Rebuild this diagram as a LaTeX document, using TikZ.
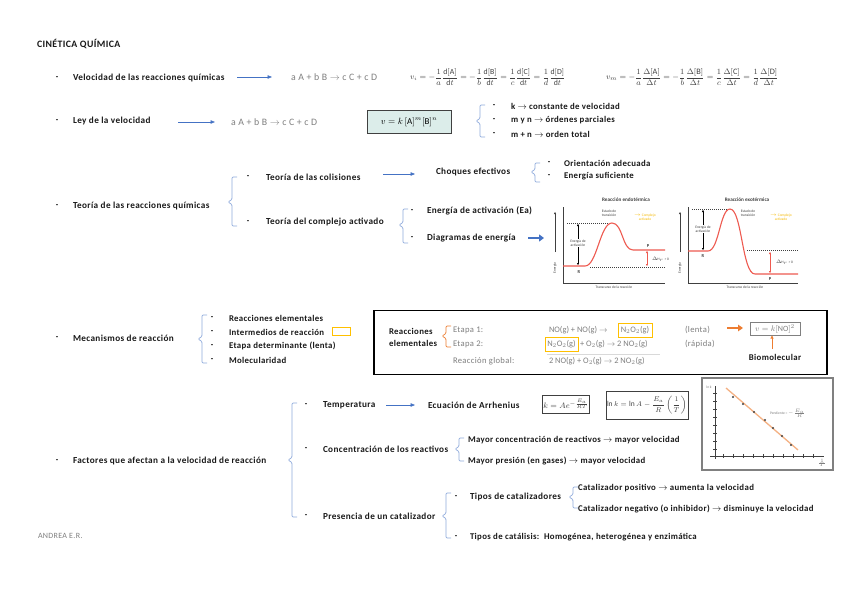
\documentclass[tikz,border=0pt]{standalone}
\usepackage{amsmath}
\usepackage{fontspec}
\setmainfont{Carlito}
\newfontfamily\lsf[LetterSpace=4]{Carlito}
\usetikzlibrary{arrows.meta}
\definecolor{blu}{HTML}{4472C4}
\definecolor{brk}{HTML}{8FAADC}
\definecolor{gtx}{HTML}{7F7F7F}
\definecolor{org}{HTML}{ED7D31}
\definecolor{yel}{HTML}{FFC000}
\definecolor{boxfill}{HTML}{DCEDEA}
\definecolor{crv}{HTML}{EE5A50}
\definecolor{ylab}{HTML}{F5B800}
\definecolor{dgray}{HTML}{404040}
\definecolor{lorg}{HTML}{F4B183}
\newcommand{\brc}[5][brk]{\draw[#1,line width=0.7pt,rounded corners=1.2pt] (#2+5,#3) -- (#2,#3) -- (#2,#5-2.5) -- (#2-4,#5) -- (#2,#5+2.5) -- (#2,#4) -- (#2+5,#4);}
\begin{document}
\begin{tikzpicture}[x=1pt,y=-1pt,
  every node/.style={inner sep=0pt,outer sep=0pt},
  lbl/.style={anchor=west,font=\lsf\fontsize{9.2}{11}\selectfont\bfseries,text=black!90},
  itm/.style={anchor=west,font=\lsf\fontsize{8.8}{10.5}\selectfont\bfseries,text=black!90},
  bul/.style={anchor=center,font=\fontsize{8}{9.6}\selectfont\bfseries},
  eqs/.style={anchor=west,font=\lsf\fontsize{9.8}{11}\selectfont,text=gtx},
  beq/.style={anchor=west,font=\lsf\fontsize{8.6}{10}\selectfont,text=gtx},
  barr/.style={draw=blu,line width=0.6pt,-{Triangle[length=4.5pt,width=3.5pt]}},
  tiny/.style={font=\fontsize{3.6}{4.2}\selectfont,align=center,text=dgray},
  tarr/.style={line width=0.4pt,{Triangle[length=2pt,width=2pt]}-{Triangle[length=2pt,width=2pt]}},
  dsh/.style={dgray,line width=0.4pt,dash pattern=on 1pt off 1pt},
]
\useasboundingbox (0,0) rectangle (848,599);
\fill[white] (0,0) rectangle (848,599);

% title
\node[lbl,font=\lsf\fontsize{9.8}{11}\selectfont\bfseries] (title) at (37,44) {CINÉTICA QUÍMICA};

% row 1
\node[bul] (d1) at (57,78) {-};
\node[lbl] (vel) at (73,78) {Velocidad de las reacciones químicas};
\coordinate (a1s) at (237,77); \coordinate (a1e) at (272,77);
\draw[barr] (a1s) -- (a1e);
\node[eqs] (eq1) at (291,77) {a A + b B $\rightarrow$ c C + c D};
\node[anchor=west,text=dgray,font=\fontsize{7.8}{8}\selectfont] (vi) at (410,77)
 {$v_i=-\dfrac{1}{a}\dfrac{\mathrm{d[A]}}{\mathrm{d}t}=-\dfrac{1}{b}\dfrac{\mathrm{d[B]}}{\mathrm{d}t}=\dfrac{1}{c}\dfrac{\mathrm{d[C]}}{\mathrm{d}t}=\dfrac{1}{d}\dfrac{\mathrm{d[D]}}{\mathrm{d}t}$};
\node[anchor=west,text=dgray,font=\fontsize{8.3}{9}\selectfont] (vm) at (606,77)
 {$v_m=-\dfrac{1}{a}\dfrac{\Delta\mathrm{[A]}}{\Delta t}=-\dfrac{1}{b}\dfrac{\Delta\mathrm{[B]}}{\Delta t}=\dfrac{1}{c}\dfrac{\Delta\mathrm{[C]}}{\Delta t}=\dfrac{1}{d}\dfrac{\Delta\mathrm{[D]}}{\Delta t}$};

% row 2
\node[bul] (d2) at (57,121) {-};
\node[lbl] (ley) at (73,121) {Ley de la velocidad};
\coordinate (a2s) at (178,122); \coordinate (a2e) at (215,122);
\draw[barr] (a2s) -- (a2e);
\node[eqs] (eq2) at (231,122) {a A + b B $\rightarrow$ c C + c D};
\node[draw=dgray,line width=0.9pt,fill=boxfill,minimum width=84pt,minimum height=23pt,font=\fontsize{9}{10}\selectfont] (law) at (409,122) {$v=k\,[\mathrm{A}]^m[\mathrm{B}]^n$};
\brc{480}{105}{137}{121}
\node[bul] (d21) at (494,106) {-}; \node[itm] (k1) at (511,106) {k $\rightarrow$ constante de velocidad};
\node[bul] (d22) at (494,120) {-}; \node[itm] (k2) at (511,120) {m y n $\rightarrow$ órdenes parciales};
\node[bul] (d23) at (494,134) {-}; \node[itm] (k3) at (511,134) {m + n $\rightarrow$ orden total};

% row 3
\node[bul] (d3) at (57,206) {-};
\node[lbl] (teo) at (73,206) {Teoría de las reacciones químicas};
\brc{232}{177}{226}{202}
\node[bul] (d31) at (248,177) {-}; \node[lbl] (col) at (266,177) {Teoría de las colisiones};
\coordinate (a3s) at (383,174); \coordinate (a3e) at (415,174);
\draw[barr] (a3s) -- (a3e);
\node[lbl] (choq) at (436,172) {Choques efectivos};
\brc{535}{163}{182}{172}
\node[bul] (d311) at (549,163) {-}; \node[itm] (ori) at (564,163) {Orientación adecuada};
\node[bul] (d312) at (549,176) {-}; \node[itm] (ens) at (564,176) {Energía suficiente};
\node[bul] (d32) at (248,222) {-}; \node[lbl] (comp) at (266,222) {Teoría del complejo activado};
\brc{403}{209}{243}{225}
\node[bul] (d321) at (412,211) {-}; \node[lbl] (ea) at (427,211) {Energía de activación (Ea)};
\node[bul] (d322) at (412,238) {-}; \node[lbl] (diag) at (427,238) {Diagramas de energía};
\coordinate (a4s) at (528,238); \coordinate (a4e) at (544,238);
\draw[blu,line width=2.6pt,-{Triangle[length=5pt,width=7pt]}] (a4s) -- (a4e);

% energy diagram: endothermic
\node[font=\fontsize{5.2}{6}\selectfont\bfseries,text=dgray] (endo) at (626,200) {Reacción endotérmica};
\draw[dgray,line width=0.5pt] (563,207) -- (563,283) -- (665,283);
\draw[dgray,line width=0.5pt,-{Triangle[length=2pt,width=2pt]}] (555,252) -- (555,212);
\node[tiny,rotate=90] (en1) at (555,268) {Energía};
\node[tiny] (tr1) at (614,287.5) {Transcurso de la reacción};
\draw[dsh] (567,223) -- (610,223);
\draw[dsh] (590,267) -- (665,267);
\draw[crv,line width=1.1pt] (563,266) -- (585,266) .. controls (597,266) and (600,223) .. (612,223) .. controls (623,223) and (622,250) .. (633,250) -- (665,250);
\draw[tarr] (578,224) -- (578,265);
\node[tiny,fill=white,inner sep=0.6pt] (eal1) at (578,243) {Energía de\\activación};
\node[tiny] (et1) at (609,213.5) {Estado de\\transición};
\node[tiny,text=ylab] (ca1) at (645,217) {$\rightarrow$ Complejo\\activado};
\node[tiny,font=\fontsize{4.5}{5}\selectfont\bfseries] (p1) at (648,246) {P};
\node[tiny,font=\fontsize{4.5}{5}\selectfont\bfseries] (r1) at (579,272) {R};
\draw[tarr,crv] (647,251) -- (647,266);
\node[tiny,anchor=west] (dh1) at (652,259) {$\Delta$H$_r$ > 0};

% energy diagram: exothermic
\node[font=\fontsize{5.2}{6}\selectfont\bfseries,text=dgray] (exo) at (747,200) {Reacción exotérmica};
\draw[dgray,line width=0.5pt] (688,207) -- (688,283) -- (798,283);
\draw[dgray,line width=0.5pt,-{Triangle[length=2pt,width=2pt]}] (680,252) -- (680,212);
\node[tiny,rotate=90] (en2) at (680,268) {Energía};
\node[tiny] (tr2) at (745,287.5) {Transcurso de la reacción};
\draw[dsh] (692,209) -- (729,209);
\draw[dsh] (747,250) -- (798,250);
\draw[crv,line width=1.1pt] (688,251) -- (708,251) .. controls (719,251) and (720,209) .. (730,209) .. controls (742,209) and (742,274) .. (755,274) -- (798,274);
\draw[tarr] (703,210) -- (703,250);
\node[tiny,fill=white,inner sep=0.6pt] (eal2) at (703,229) {Energía de\\activación};
\node[tiny] (et2) at (748,213.5) {Estado de\\transición};
\node[tiny,text=ylab] (ca2) at (781,217) {$\rightarrow$ Complejo\\activado};
\node[tiny,font=\fontsize{4.5}{5}\selectfont\bfseries] (r2) at (703,256) {R};
\node[tiny,font=\fontsize{4.5}{5}\selectfont\bfseries] (p2) at (770,279) {P};
\draw[tarr,crv] (770,252) -- (770,273);
\node[tiny,anchor=west] (dh2) at (776,262) {$\Delta$H$_r$ > 0};

% row 4
\node[bul] (d4) at (57,338) {-};
\node[lbl] (mec) at (73,338) {Mecanismos de reacción};
\brc{202}{315}{363}{339}
\node[bul] (d41) at (212,318) {-}; \node[itm] (m1) at (229,318) {Reacciones elementales};
\node[bul] (d42) at (212,332) {-}; \node[itm] (m2) at (229,332) {Intermedios de reacción};
\node[draw=yel,line width=0.8pt,minimum width=18pt,minimum height=8pt] (ybox) at (341,331) {};
\node[bul] (d43) at (212,346) {-}; \node[itm] (m3) at (229,346) {Etapa determinante (lenta)};
\node[bul] (d44) at (212,360) {-}; \node[itm] (m4) at (229,360) {Molecularidad};

\node[draw=black,line width=1.2pt,minimum width=453pt,minimum height=64pt] (mbox) at (600.5,342.5) {};
\node[lbl,align=left,font=\lsf\fontsize{8.8}{12}\selectfont\bfseries] (relem) at (389,337) {Reacciones\\elementales};
\brc[org]{446}{326}{347}{336}
\node[beq] (et1l) at (453,330) {Etapa 1:};
\node[beq] (et2l) at (453,344) {Etapa 2:};
\node[beq] (rgl) at (453,361) {Reacción global:};
\node[beq,font=\fontsize{8.4}{10}\selectfont] (s1) at (549,330) {NO(g) + NO(g) $\rightarrow$};
\node[beq,font=\fontsize{8.4}{10}\selectfont,anchor=center,draw=yel,line width=0.9pt,minimum width=34pt,minimum height=14pt] (int1) at (635,330) {N$_2$O$_2$(g)};
\node[beq,font=\fontsize{8.4}{10}\selectfont,anchor=center,draw=yel,line width=0.9pt,minimum width=33pt,minimum height=14pt] (int2) at (561.5,344.5) {N$_2$O$_2$(g)};
\node[beq,font=\fontsize{8.4}{10}\selectfont] (s2) at (580,344) {+ O$_2$(g) $\rightarrow$ 2 NO$_2$(g)};
\draw[gray!30,line width=0.4pt] (547,354) -- (660,354);
\node[beq,font=\fontsize{8.4}{10}\selectfont] (s3) at (549,361) {2 NO(g) + O$_2$(g) $\rightarrow$ 2 NO$_2$(g)};
\node[beq] (len) at (685,330) {(lenta)};
\node[beq] (rap) at (685,344) {(rápida)};
\coordinate (a5s) at (727,328); \coordinate (a5e) at (743,328);
\draw[org,line width=2.4pt,-{Triangle[length=5pt,width=6.5pt]}] (a5s) -- (a5e);
\node[draw=gray,line width=0.7pt,minimum width=50pt,minimum height=13pt,text=gtx,font=\fontsize{8}{9}\selectfont] (rate) at (775,329) {$v=k[\mathrm{NO}]^2$};
\node[lbl,anchor=center,font=\lsf\fontsize{8.8}{10}\selectfont\bfseries] (bio) at (775,357) {Biomolecular};
\draw[org,line width=0.7pt,-{Triangle[length=3pt,width=3pt]}] (772,349) -- (rate.south -| 772,0);

% row 5
\node[bul] (d5) at (57,461) {-};
\node[lbl] (fac) at (73,461) {Factores que afectan a la velocidad de reacción};
\brc{292}{403}{517}{460}
\node[bul] (d51) at (306,405) {-}; \node[lbl] (temp) at (323,405) {Temperatura};
\coordinate (a6s) at (386,405); \coordinate (a6e) at (415,405);
\draw[barr] (a6s) -- (a6e);
\node[lbl] (arr) at (428,405) {Ecuación de Arrhenius};
\node[draw=dgray,line width=0.8pt,minimum width=47pt,minimum height=18pt,text=dgray,font=\fontsize{8}{9}\selectfont] (kbox) at (566,404) {$k=Ae^{-\frac{E_a}{RT}}$};
\node[draw=dgray,line width=0.8pt,minimum width=82pt,minimum height=28pt,text=dgray,font=\fontsize{7.5}{9}\selectfont] (lnbox) at (647,405) {$\ln k=\ln A-\dfrac{E_a}{R}\left(\dfrac{1}{T}\right)$};
\node[bul] (d52) at (306,449) {-}; \node[lbl] (conc) at (323,449) {Concentración de los reactivos};
\brc{459}{438}{461}{449}
\node[itm] (mc1) at (468,440) {Mayor concentración de reactivos $\rightarrow$ mayor velocidad};
\node[itm] (mc2) at (468,461) {Mayor presión (en gases) $\rightarrow$ mayor velocidad};
\node[bul] (d53) at (306,516) {-}; \node[lbl] (cat) at (323,516) {Presencia de un catalizador};
\brc{446}{493}{538}{516}
\node[bul] (d531) at (456,497) {-}; \node[lbl] (tc) at (470,497) {Tipos de catalizadores};
\brc{573}{487}{508}{497}
\node[itm] (cp) at (578,488) {Catalizador positivo $\rightarrow$ aumenta la velocidad};
\node[itm] (cn) at (578,509) {Catalizador negativo (o inhibidor) $\rightarrow$ disminuye la velocidad};
\node[bul] (d532) at (456,537) {-}; \node[itm] (tcs) at (470,537) {Tipos de catálisis:\ \ Homogénea, heterogénea y enzimática};

\node[anchor=west,font=\lsf\fontsize{8}{9}\selectfont,text=gtx] (auth) at (38,536) {ANDREA E.R.};

% Arrhenius plot
\node[draw=gray,line width=1.4pt,minimum width=131pt,minimum height=92pt] (plot) at (767.5,424) {};
\draw[dgray,line width=0.5pt] (715,386) -- (715,459);
\draw[dgray,line width=0.5pt] (710,456) -- (824,456);
\foreach \yy in {393,401,409,417,425,433,441,449} \draw[dgray,line width=0.4pt] (713,\yy) -- (717,\yy);
\foreach \xx in {723,733,743,753,763,773,783,793,803,813} \draw[dgray,line width=0.4pt] (\xx,454) -- (\xx,458);
\node[tiny,text=gray] (lnk) at (709,387) {ln k};
\node[tiny,text=gray] (invT) at (822,463) {$\frac{1}{T}$};
\draw[lorg,line width=1.3pt] (726,388) -- (798,450);
\foreach \px/\py in {733/397,743/404,754/412,765/420,773/428,782/436,791/445} \fill[dgray] (\px,\py) circle (1.1pt);
\node[tiny,text=gray,anchor=west] (pend) at (770,413) {Pendiente = $-\frac{E_a}{R}$};
\end{tikzpicture}
\end{document}
